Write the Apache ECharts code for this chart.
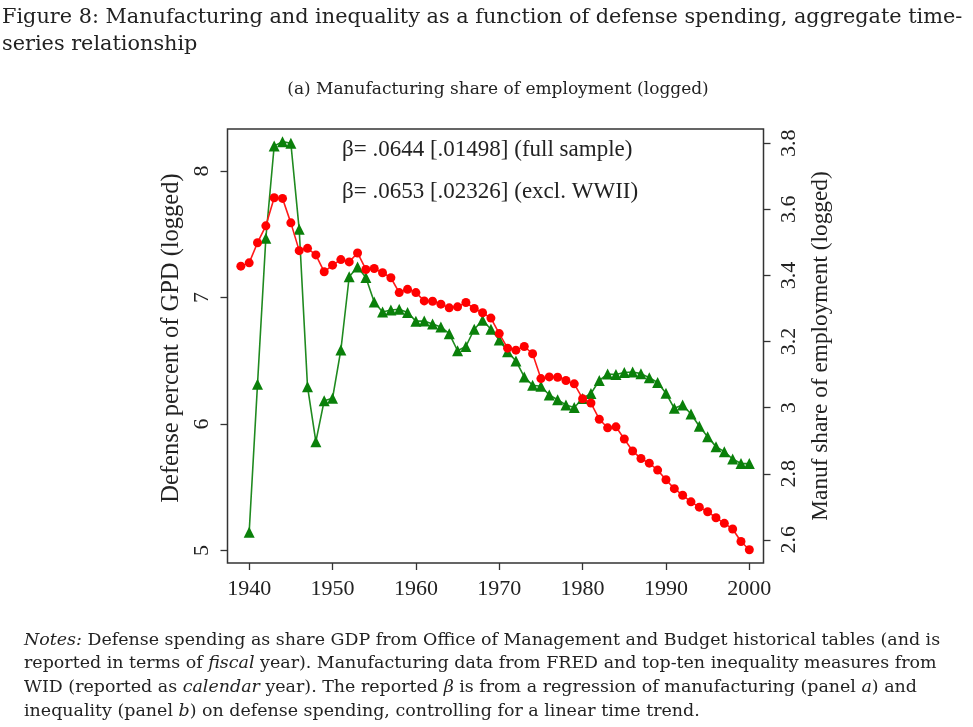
<!DOCTYPE html>
<html><head><meta charset="utf-8">
<script src="https://cdn.jsdelivr.net/npm/echarts@6/dist/echarts.min.js"></script>
<style>html,body{margin:0;padding:0;background:#fff}#c{width:973px;height:727px}</style>
</head><body><div id="c"></div>
<script>
// ---- data ----
const manufYears = [1939,1940,1941,1942,1943,1944,1945,1946,1947,1948,1949,1950,1951,1952,1953,1954,1955,1956,1957,1958,1959,1960,1961,1962,1963,1964,1965,1966,1967,1968,1969,1970,1971,1972,1973,1974,1975,1976,1977,1978,1979,1980,1981,1982,1983,1984,1985,1986,1987,1988,1989,1990,1991,1992,1993,1994,1995,1996,1997,1998,1999,2000];
const manufShare = [3.428,3.438,3.499,3.550,3.635,3.633,3.559,3.475,3.482,3.462,3.411,3.431,3.448,3.441,3.468,3.418,3.421,3.408,3.393,3.348,3.358,3.348,3.323,3.322,3.313,3.302,3.305,3.318,3.300,3.287,3.271,3.224,3.180,3.174,3.185,3.163,3.088,3.093,3.092,3.082,3.072,3.027,3.014,2.965,2.939,2.942,2.905,2.869,2.846,2.832,2.811,2.782,2.755,2.735,2.715,2.699,2.685,2.667,2.650,2.633,2.595,2.570];
const defenseYears = [1940,1941,1942,1943,1944,1945,1946,1947,1948,1949,1950,1951,1952,1953,1954,1955,1956,1957,1958,1959,1960,1961,1962,1963,1964,1965,1966,1967,1968,1969,1970,1971,1972,1973,1974,1975,1976,1977,1978,1979,1980,1981,1982,1983,1984,1985,1986,1987,1988,1989,1990,1991,1992,1993,1994,1995,1996,1997,1998,1999,2000];
const defenseShare = [5.144,6.314,7.468,8.198,8.232,8.219,7.539,6.295,5.860,6.184,6.203,6.585,7.164,7.241,7.158,6.964,6.885,6.901,6.907,6.881,6.813,6.814,6.791,6.767,6.714,6.579,6.613,6.749,6.820,6.749,6.664,6.572,6.498,6.372,6.306,6.298,6.229,6.192,6.150,6.130,6.202,6.241,6.344,6.395,6.391,6.407,6.411,6.398,6.365,6.328,6.243,6.124,6.150,6.079,5.982,5.900,5.821,5.781,5.723,5.687,5.687];
const xTicks = [1940,1950,1960,1970,1980,1990,2000];
const leftTicks = [5,6,7,8];
const rightTicks = [2.6,2.8,3.0,3.2,3.4,3.6,3.8];
const rightTickLabels = ['2.6','2.8','3','3.2','3.4','3.6','3.8'];
const titleLines = ['Figure 8: Manufacturing and inequality as a function of defense spending, aggregate time-','series relationship'];
const panelTitle = '(a) Manufacturing share of employment (logged)';
const betaLines = ['\u03b2= .0644 [.01498] (full sample)','\u03b2= .0653 [.02326] (excl. WWII)'];
const noteLines = [
 '{i|Notes:} Defense spending as share GDP from Office of Management and Budget historical tables (and is',
 'reported in terms of {i|fiscal} year). Manufacturing data from FRED and top-ten inequality measures from',
 'WID (reported as {i|calendar} year). The reported {i|\u03b2} is from a regression of manufacturing (panel {i|a}) and',
 'inequality (panel {i|b}) on defense spending, controlling for a linear time trend.'
];

const chart = echarts.init(document.getElementById('c'), null, {renderer:'canvas'});
const plotFont = 'Liberation Serif';
const docFont = 'DejaVu Serif';
const ink = '#222';
const axisStyle = {color:'#333', width:1.3};

const graphics = [];
titleLines.forEach((t,i)=>graphics.push({type:'text', x:2, y:18+i*27, style:{text:t, fontFamily:docFont, fontSize:20.8, fill:ink, verticalAlign:'middle'}}));
graphics.push({type:'text', x:498, y:90, style:{text:panelTitle, fontFamily:docFont, fontSize:17, fill:ink, align:'center', verticalAlign:'middle'}});
betaLines.forEach((t,i)=>graphics.push({type:'text', x:342, y:150+i*42, style:{text:t, fontFamily:plotFont, fontSize:23, fill:ink, verticalAlign:'middle'}}));
noteLines.forEach((t,i)=>graphics.push({type:'text', x:24, y:640+i*23.7, style:{text:t, fontFamily:docFont, fontSize:17.45, fill:ink, verticalAlign:'middle',
  rich:{i:{fontStyle:'italic', fontFamily:docFont, fontSize:17.45, fill:ink}}}}));

chart.setOption({
  backgroundColor:'#fff',
  animation:false,
  grid:{left:227.5, right:209.5, top:129, bottom:164, show:true, borderColor:'#333', borderWidth:1.5, backgroundColor:'transparent'},
  xAxis:{type:'value', min:1937.4, max:2001.7,
    axisLine:{show:false}, splitLine:{show:false},
    axisTick:{show:true, customValues:xTicks, length:7, lineStyle:axisStyle},
    axisLabel:{customValues:xTicks, margin:15, fontFamily:plotFont, fontSize:22, color:ink, formatter:v=>String(v)}},
  yAxis:[
    {type:'value', position:'left', min:4.901, max:8.332,
      name:'Defense percent of GPD (logged)', nameLocation:'middle', nameRotate:90, nameGap:34,
      nameTextStyle:{fontFamily:plotFont, fontSize:24.5, color:ink, padding:[0,0,0,16]},
      axisLine:{show:false}, splitLine:{show:false},
      axisTick:{show:true, customValues:leftTicks, length:7, lineStyle:axisStyle},
      axisLabel:{customValues:leftTicks, rotate:90, margin:14, fontFamily:plotFont, fontSize:22, color:ink}},
    {type:'value', position:'right', min:2.530, max:3.843,
      name:'Manuf share of employment (logged)', nameLocation:'middle', nameRotate:90, nameGap:46,
      nameTextStyle:{fontFamily:plotFont, fontSize:23.3, color:ink},
      axisLine:{show:false}, splitLine:{show:false},
      axisTick:{show:true, customValues:rightTicks, length:7, lineStyle:axisStyle},
      axisLabel:{customValues:rightTicks, rotate:90, margin:15, fontFamily:plotFont, fontSize:22, color:ink,
        formatter:v=>{const k=rightTicks.findIndex(t=>Math.abs(t-v)<1e-6); return k>=0?rightTickLabels[k]:'';}}}
  ],
  series:[
    {type:'line', name:'Defense', yAxisIndex:0, z:2,
      data:defenseYears.map((y,i)=>[y, defenseShare[i]]),
      symbol:'triangle', symbolSize:11, showAllSymbol:true,
      lineStyle:{color:'#1f8a1f', width:1.6}, itemStyle:{color:'#0a800a'}},
    {type:'line', name:'Manufacturing', yAxisIndex:1, z:3,
      data:manufYears.map((y,i)=>[y, manufShare[i]]),
      symbol:'circle', symbolSize:9, showAllSymbol:true,
      lineStyle:{color:'#ff1a1a', width:1.6}, itemStyle:{color:'#ff0000'}}
  ],
  graphic:graphics
});
</script></body></html>
